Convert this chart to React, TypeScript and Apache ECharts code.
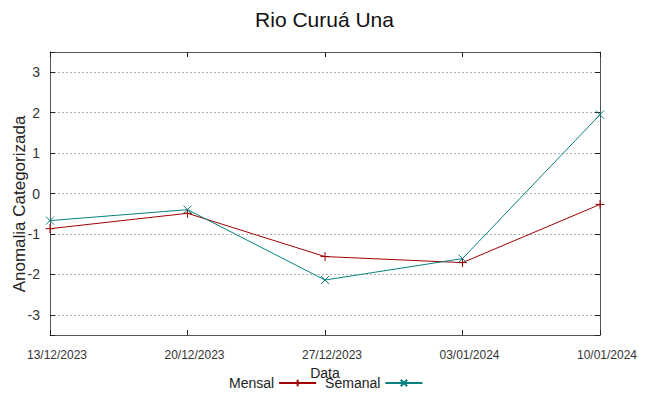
import React, { useEffect, useRef } from 'react';
import * as echarts from 'echarts';

const dates = ['13/12/2023', '20/12/2023', '27/12/2023', '03/01/2024', '10/01/2024'];
const mensal = [-0.87, -0.49, -1.56, -1.71, -0.27];
const semanal = [-0.67, -0.4, -2.14, -1.61, 1.95];
const yTitle = 'Anomalia Categorizada';

const FONT = '"Liberation Sans", Arial, sans-serif';
const RED = '#a00000';
const TEAL = '#0a8080';
const FRAME = '#555555';

export default function App() {
  const ref = useRef<HTMLDivElement>(null);
  useEffect(() => {
    const chart = echarts.init(ref.current as HTMLDivElement, null, { renderer: 'svg' });
    const yCommon = {
      type: 'value' as const,
      min: -3.5,
      max: 3.5,
      splitNumber: 7,
      axisLine: { show: true, onZero: false, lineStyle: { color: FRAME, width: 1 } },
      axisTick: { show: true, inside: true, length: 5, lineStyle: { color: '#222' } },
    };
    const xCommon = {
      type: 'category' as const,
      data: dates,
      boundaryGap: false,
      axisLine: { show: true, onZero: false, lineStyle: { color: FRAME, width: 1 } },
      axisTick: { show: true, inside: true, length: 5, interval: 0, lineStyle: { color: '#222' } },
      splitLine: { show: false },
    };
    chart.setOption({
      animation: false,
      backgroundColor: '#ffffff',
      textStyle: { fontFamily: FONT },
      title: {
        text: 'Rio Curuá Una',
        left: 'center',
        top: 4,
        textStyle: { fontFamily: FONT, fontSize: 21, fontWeight: 'normal', color: '#111' },
      },
      grid: { left: 50, right: 49, top: 52, bottom: 61, containLabel: false },
      graphic: [
        {
          type: 'text',
          x: 19,
          y: 204,
          rotation: Math.PI / 2,
          style: {
            text: yTitle,
            fontFamily: FONT,
            fontSize: 17,
            fill: '#222',
            align: 'center',
            verticalAlign: 'middle',
          },
        },
      ],
      legend: {
        left: 224,
        top: 371,
        align: 'right',
        itemWidth: 37,
        itemHeight: 8,
        itemGap: 8,
        textStyle: { fontFamily: FONT, fontSize: 14, color: '#222' },
        data: ['Mensal', 'Semanal'],
      },
      xAxis: [
        {
          ...xCommon,
          position: 'bottom',
          axisLabel: {
            interval: 0,
            fontSize: 12,
            color: '#333',
            margin: 14,
            fontFamily: FONT,
            padding: [0, 0, 0, 14],
          },
          name: 'Data',
          nameLocation: 'middle',
          nameGap: 27,
          nameTextStyle: { fontSize: 14, color: '#222', fontFamily: FONT },
        },
        {
          ...xCommon,
          position: 'top',
          axisLabel: { show: false },
        },
      ],
      yAxis: [
        {
          ...yCommon,
          position: 'left',
          axisLabel: {
            fontSize: 14,
            color: '#333',
            margin: 10,
            fontFamily: FONT,
            formatter: (v: number) => (Number.isInteger(v) ? String(v) : ''),
          },
          splitLine: { show: true, lineStyle: { color: '#b0b0b0', type: [2, 2], width: 1 } },
        },
        {
          ...yCommon,
          position: 'right',
          axisLabel: { show: false },
          splitLine: { show: false },
        },
      ],
      series: [
        {
          name: 'Mensal',
          type: 'line',
          data: mensal,
          xAxisIndex: 0,
          yAxisIndex: 0,
          symbol: 'path://M0,4L8,4M4,0L4,8',
          symbolSize: 9,
          showAllSymbol: true,
          lineStyle: { color: RED, width: 1 },
          itemStyle: { color: 'rgba(0,0,0,0)', borderColor: RED, borderWidth: 1 },
        },
        {
          name: 'Semanal',
          type: 'line',
          data: semanal,
          xAxisIndex: 0,
          yAxisIndex: 0,
          symbol: 'path://M0,0L8,8M8,0L0,8',
          symbolSize: 8,
          showAllSymbol: true,
          lineStyle: { color: TEAL, width: 1 },
          itemStyle: { color: 'rgba(0,0,0,0)', borderColor: TEAL, borderWidth: 1 },
        },
      ],
    });
    return () => chart.dispose();
  }, []);
  return (
    <div
      ref={ref}
      style={{ position: 'absolute', left: 0, top: 0, width: 649, height: 396, background: '#fff' }}
    />
  );
}
